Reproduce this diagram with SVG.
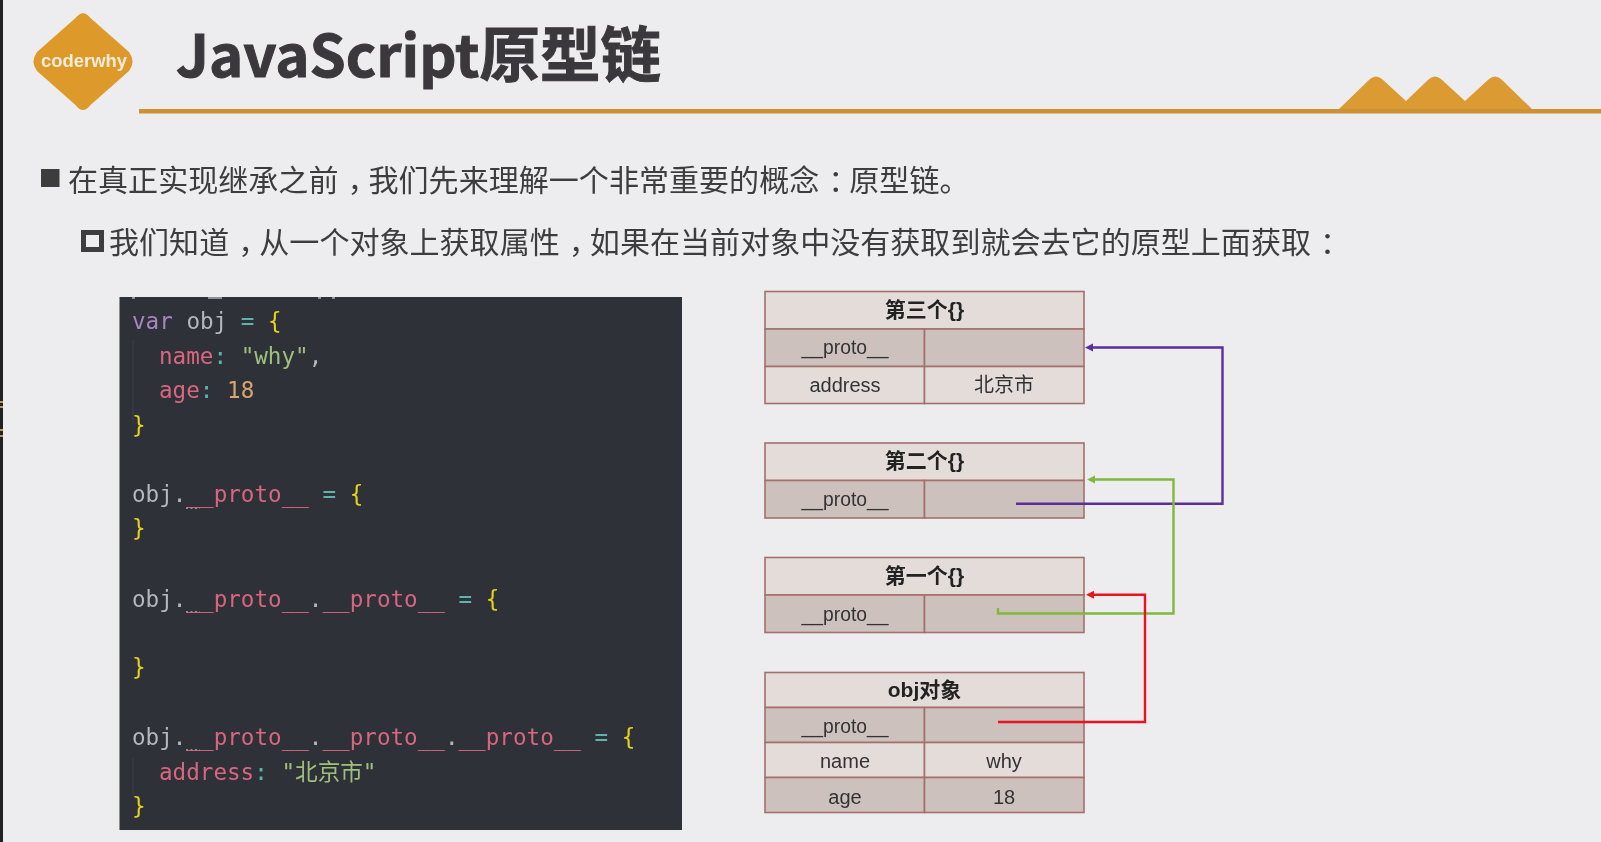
<svg xmlns="http://www.w3.org/2000/svg" width="1601" height="842" viewBox="0 0 1601 842">
<style>
.h{font:700 21px "Liberation Sans","Noto Sans CJK SC",sans-serif;fill:#222;text-anchor:middle}
.c{font:400 20px "Liberation Sans","Noto Sans CJK SC",sans-serif;fill:#333;text-anchor:middle}
.u{font-size:19.3px}
.b{font:400 30.050px "Noto Sans CJK SC",sans-serif;fill:#3e3e40}
.w{letter-spacing:9px}.x{letter-spacing:-9px}
.m{font:400 22.6px "DejaVu Sans Mono","Noto Sans CJK SC",monospace;fill:#b4b7bc}
.p{fill:#d9667f}.q{fill:#e6d21e}.e{fill:#5fb3ad}.k{fill:#a884c0}.s{fill:#9fc07c}.n{fill:#d7a56e}
.hd{fill:#e3dcd9;stroke:#a3716c;stroke-width:1.6}
.dk{fill:#cdc1bd;stroke:#a3716c;stroke-width:1.6}
.lt{fill:#e3dcd9;stroke:#a3716c;stroke-width:1.6}
.l{fill:none;stroke-width:2.4}
.hint{fill:none;stroke:#b0b2b6;stroke-width:1.5;stroke-dasharray:2 2.500}
</style>
<defs>
<marker id="ap" markerUnits="userSpaceOnUse" markerWidth="9" markerHeight="10" refX="1" refY="5" orient="auto"><path d="M8 1V9L0 5Z" fill="#5a2d9c" transform="rotate(180 4 5)"/></marker>
<marker id="ag" markerUnits="userSpaceOnUse" markerWidth="9" markerHeight="10" refX="1" refY="5" orient="auto"><path d="M8 1V9L0 5Z" fill="#7fb93c" transform="rotate(180 4 5)"/></marker>
<marker id="ar" markerUnits="userSpaceOnUse" markerWidth="9" markerHeight="10" refX="1" refY="5" orient="auto"><path d="M8 1V9L0 5Z" fill="#e8141e" transform="rotate(180 4 5)"/></marker>
<filter id="soft" x="0" y="0" width="100%" height="100%"><feGaussianBlur stdDeviation="0.55"/></filter>
</defs>
<rect width="1601" height="842" fill="#edecee"/>
<g filter="url(#soft)">
<rect x="0" y="0" width="3" height="842" fill="#202226"/>
<path d="M0 402h3M0 407h3M0 430h3M0 436h3" stroke="#b59a5a" stroke-width="2" fill="none"/>
<g id="logo"><path d="M75.500 18 Q83 8.500 90.500 18 L129 52 Q136 61.700 129 71 L90.500 105 Q83 115 75.500 105 L37 71 Q30 61.700 37 52Z" fill="#dd9a2b"/>
<text x="84" y="66.500" text-anchor="middle" style="font:700 18.400px 'Liberation Sans',sans-serif;fill:#f4ecd9">coderwhy</text></g>
<g id="title"><text x="176" y="77" style="font:700 58px 'Noto Sans CJK SC',sans-serif;fill:#3b393c;stroke:#3b393c;stroke-width:1">JavaScript<tspan style="font-size:60.500px">原型链</tspan></text></g>
<g id="header-rule"><rect x="139" y="109" width="1462" height="4.500" fill="#cc9130"/>
<path d="M1339 109 L1370 79 Q1376 74 1382 79 L1406 101 L1429 79 Q1435 74 1441 79 L1465 101 L1489 79 Q1495 74 1501 79 L1532 109Z" fill="#dc9a33"/></g>
<g id="bullet-1"><rect x="41" y="169" width="18.500" height="18" fill="#3c3c3e"/>
<text class="b" x="68" y="191">在真正实现继承之<tspan class="w">前</tspan><tspan class="x">，</tspan>我们先来理解一个非常重要的概<tspan class="w">念</tspan><tspan class="x">：</tspan>原型链。</text></g>
<g id="bullet-2"><rect x="83.500" y="232.500" width="18" height="17" fill="none" stroke="#3c3c3e" stroke-width="5"/>
<text class="b" x="109" y="253">我们知<tspan class="w">道</tspan><tspan class="x">，</tspan>从一个对象上获取属<tspan class="w">性</tspan><tspan class="x">，</tspan>如果在当前对象中没有获取到就会去它的原型上面获<tspan class="w">取</tspan>：</text></g>
<g id="code">
<rect x="119.500" y="297" width="562.500" height="533" fill="#2f3138"/>
<path d="M132 298h3M208 298h14M318 298h3M332 298h3" stroke="#8d9096" stroke-width="2" fill="none"/>
<path d="M133 340V423M133 758V795" stroke="#3f4148" stroke-width="1" fill="none"/>
<path class="hint" d="M186 508h14M186 612h14M186 750h14"/>
<text class="m" x="132" y="329" xml:space="preserve"><tspan class="k">var</tspan> obj <tspan class="e">=</tspan> <tspan class="q">{</tspan></text>
<text class="m" x="159" y="363.500" xml:space="preserve"><tspan class="p">name</tspan><tspan class="e">:</tspan> <tspan class="s">"why"</tspan>,</text>
<text class="m" x="159" y="398" xml:space="preserve"><tspan class="p">age</tspan><tspan class="e">:</tspan> <tspan class="n">18</tspan></text>
<text class="m q" x="132" y="432.500">}</text>
<text class="m" x="132" y="501.500" xml:space="preserve">obj.<tspan class="p">__proto__</tspan> <tspan class="e">=</tspan> <tspan class="q">{</tspan></text>
<text class="m q" x="132" y="536">}</text>
<text class="m" x="132" y="606.500" xml:space="preserve">obj.<tspan class="p">__proto__</tspan>.<tspan class="p">__proto__</tspan> <tspan class="e">=</tspan> <tspan class="q">{</tspan></text>
<text class="m q" x="132" y="675">}</text>
<text class="m" x="132" y="745" xml:space="preserve">obj.<tspan class="p">__proto__</tspan>.<tspan class="p">__proto__</tspan>.<tspan class="p">__proto__</tspan> <tspan class="e">=</tspan> <tspan class="q">{</tspan></text>
<text class="m" x="159" y="779.500" xml:space="preserve"><tspan class="p">address</tspan><tspan class="e">:</tspan> <tspan class="s">"北京市"</tspan></text>
<text class="m q" x="132" y="814">}</text>
</g>
<g id="table-3">
<rect class="hd" x="765" y="291.500" width="319" height="37.500"/>
<rect class="dk" x="765" y="329" width="159.500" height="37.500"/><rect class="dk" x="924.500" y="329" width="159.500" height="37.500"/>
<rect class="lt" x="765" y="366.500" width="159.500" height="37"/><rect class="lt" x="924.500" y="366.500" width="159.500" height="37"/>
<text class="h" x="924.500" y="317">第三个{}</text><text class="c u" x="845" y="354">__proto__</text><text class="c" x="845" y="392">address</text><text class="c" x="1004" y="392">北京市</text>
</g>
<g id="table-2">
<rect class="hd" x="765" y="443" width="319" height="37.500"/>
<rect class="dk" x="765" y="480.500" width="159.500" height="37.500"/><rect class="dk" x="924.500" y="480.500" width="159.500" height="37.500"/>
<text class="h" x="924.500" y="468">第二个{}</text><text class="c u" x="845" y="506">__proto__</text>
</g>
<g id="table-1">
<rect class="hd" x="765" y="557.500" width="319" height="37.500"/>
<rect class="dk" x="765" y="595" width="159.500" height="37.500"/><rect class="dk" x="924.500" y="595" width="159.500" height="37.500"/>
<text class="h" x="924.500" y="582.500">第一个{}</text><text class="c u" x="845" y="620.500">__proto__</text>
</g>
<g id="table-obj">
<rect class="hd" x="765" y="672.500" width="319" height="35"/>
<rect class="dk" x="765" y="707.500" width="159.500" height="35"/><rect class="dk" x="924.500" y="707.500" width="159.500" height="35"/>
<rect class="lt" x="765" y="742.500" width="159.500" height="35"/><rect class="lt" x="924.500" y="742.500" width="159.500" height="35"/>
<rect class="dk" x="765" y="777.500" width="159.500" height="35"/><rect class="dk" x="924.500" y="777.500" width="159.500" height="35"/>
<text class="h" x="924.500" y="697">obj对象</text><text class="c u" x="845" y="733">__proto__</text><text class="c" x="845" y="768">name</text><text class="c" x="1004" y="768">why</text><text class="c" x="845" y="804">age</text><text class="c" x="1004" y="804">18</text>
</g>
<g id="connectors">
<path class="l" stroke="#5a2d9c" d="M1016 503.700H1222.500V347.500H1092" marker-end="url(#ap)"/>
<path class="l" stroke="#7fb93c" d="M998 608V613.500H1173.500V479.500H1094" marker-end="url(#ag)"/>
<path class="l" stroke="#e8141e" d="M998 722H1145V594.800H1093" marker-end="url(#ar)"/>
</g>
</g>
</svg>
